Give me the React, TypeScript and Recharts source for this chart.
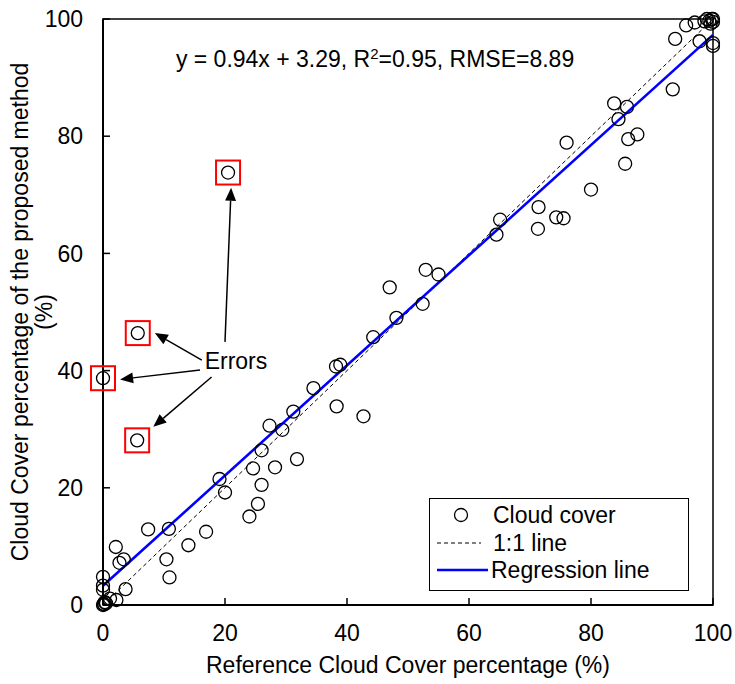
import React from 'react';
import {
  ScatterChart,
  Scatter,
  XAxis,
  YAxis,
  ReferenceLine,
  ReferenceDot,
  ReferenceArea,
} from 'recharts';

// ---- data ----
const cloudRef = [
  0, 0.2, 0.3, 0.5, 0.1, 1.15, 2.2, 0, 0, 0, 3.7, 2.1, 2.7, 3.4, 7.4, 10.8, 10.4, 10.9, 14.0, 16.9,
  19.1, 20.0, 24.0, 25.4, 24.6, 26.0, 26.0, 28.2, 27.3, 29.4, 31.2, 31.8, 34.5, 38.3, 38.2, 38.9, 42.7,
  44.3, 47.0, 48.1, 52.4, 52.9, 55.0, 64.5, 65.1, 71.3, 71.4, 74.3, 75.5, 76.0, 80.0, 83.8, 84.5, 85.9,
  85.6, 86.1, 87.6, 93.4, 93.8, 95.6, 97.0, 97.8, 98.6, 99.0, 99.4, 99.8, 100, 99.6, 100, 100, 100,
];
const cloudProposed = [
  0, 0.1, 0.5, 0.3, 0.2, 1.1, 0.85, 2.6, 3.3, 4.8, 2.7, 9.9, 7.2, 7.8, 12.9, 13.0, 7.8, 4.7, 10.2, 12.5,
  21.5, 19.2, 15.1, 17.25, 23.3, 20.5, 26.4, 23.5, 30.6, 29.9, 33.0, 24.9, 37.0, 33.9, 40.7, 41.0, 32.2,
  45.7, 54.2, 49.0, 51.4, 57.2, 56.4, 63.2, 65.75, 64.2, 67.9, 66.15, 66.0, 78.9, 70.9, 85.6, 82.9, 85.0,
  75.3, 79.5, 80.3, 88.0, 96.6, 98.9, 99.4, 96.2, 99.6, 100, 99.7, 100, 100, 99.2, 99.5, 95.9, 95.4,
];
const errorRef = [5.7, 0, 5.6, 20.5];
const errorProposed = [46.4, 38.7, 28.1, 73.8];

const xTicks = [0, 20, 40, 60, 80, 100];
const yTicks = [0, 20, 40, 60, 80, 100];

const regSlope = 0.94;
const regIntercept = 3.29;
const oneToOne = [0, 100];

// annotation arrows (from -> to, data units)
const arrowFromX = [16.2, 15.9, 17.8, 20.0];
const arrowFromY = [41.8, 40.1, 38.9, 44.9];
const arrowToX = [8.5, 2.8, 8.25, 21.0];
const arrowToY = [46.4, 38.5, 30.4, 71.2];

const cloudData = cloudRef.map((x, i) => ({ x, y: cloudProposed[i] }));
const errorData = errorRef.map((x, i) => ({ x, y: errorProposed[i] }));

const FONT = '"Liberation Sans", Arial, sans-serif';
const FS = 23;

const CircleShape = (p: any) => (
  <circle cx={p.cx} cy={p.cy} r={6.5} fill="none" stroke="#000" strokeWidth={1.3} />
);

const ErrorShape = (p: any) => (
  <g>
    <rect x={p.cx - 12} y={p.cy - 12} width={24} height={24} fill="none" stroke="#ff0000" strokeWidth={2} />
    <circle cx={p.cx} cy={p.cy} r={6.5} fill="none" stroke="#000" strokeWidth={1.3} />
  </g>
);

const ArrowShape = (p: any) => {
  const { x1, y1, x2, y2 } = p;
  const dx = x2 - x1;
  const dy = y2 - y1;
  const len = Math.hypot(dx, dy) || 1;
  const ux = dx / len;
  const uy = dy / len;
  const hl = 13;
  const hw = 5.5;
  const bx = x2 - ux * hl;
  const by = y2 - uy * hl;
  return (
    <g>
      <line x1={x1} y1={y1} x2={bx} y2={by} stroke="#000" strokeWidth={1.5} />
      <polygon
        points={`${x2},${y2} ${bx - uy * hw},${by + ux * hw} ${bx + uy * hw},${by - ux * hw}`}
        fill="#000"
      />
    </g>
  );
};

const XLabel = (props: any) => {
  const vb = props.viewBox || {};
  return (
    <text x={vb.x + vb.width / 2} y={vb.y + 68} textAnchor="middle" fontFamily={FONT} fontSize={FS} fill="#000">
      Reference Cloud Cover percentage (%)
    </text>
  );
};

const YLabel = (props: any) => {
  const vb = props.viewBox || {};
  const cy = vb.y + vb.height / 2;
  return (
    <g>
      <text x={28} y={cy} transform={`rotate(-90, 28, ${cy})`} textAnchor="middle" fontFamily={FONT} fontSize={FS} fill="#000">
        Cloud Cover percentage of the proposed method
      </text>
      <text x={52} y={cy} transform={`rotate(-90, 52, ${cy})`} textAnchor="middle" fontFamily={FONT} fontSize={FS} fill="#000">
        (%)
      </text>
    </g>
  );
};

const legendRow: React.CSSProperties = {
  position: 'absolute',
  left: 0,
  height: 26,
  display: 'flex',
  alignItems: 'center',
  fontFamily: FONT,
  fontSize: FS,
  color: '#000',
  whiteSpace: 'nowrap',
};

export default function App() {
  return (
    <div style={{ position: 'absolute', left: 0, top: 0, width: 735, height: 684, background: '#fff' }}>
      <ScatterChart width={735} height={684} margin={{ top: 19, right: 22, left: 0, bottom: 0 }}>
        <XAxis
          type="number"
          dataKey="x"
          domain={[0, 100]}
          ticks={xTicks}
          height={79}
          tickSize={-7}
          tickMargin={27}
          axisLine={{ stroke: '#000', strokeWidth: 2 }}
          tickLine={{ stroke: '#000', strokeWidth: 1.5 }}
          tick={{ fill: '#000', fontSize: FS, fontFamily: FONT }}
          label={<XLabel />}
        />
        <YAxis
          type="number"
          dataKey="y"
          domain={[0, 100]}
          ticks={yTicks}
          width={103}
          tickSize={-7}
          tickMargin={27}
          axisLine={{ stroke: '#000', strokeWidth: 2 }}
          tickLine={{ stroke: '#000', strokeWidth: 1.5 }}
          tick={{ fill: '#000', fontSize: FS, fontFamily: FONT }}
          label={<YLabel />}
        />
        <ReferenceArea x1={0} x2={100} y1={0} y2={100} fill="none" stroke="#000" strokeWidth={1.5} ifOverflow="visible" />
        <Scatter name="Cloud cover" data={cloudData} shape={CircleShape} isAnimationActive={false} />
        <Scatter name="Errors" data={errorData} shape={ErrorShape} isAnimationActive={false} />
        <ReferenceLine
          segment={[
            { x: oneToOne[0], y: oneToOne[0] },
            { x: oneToOne[1], y: oneToOne[1] },
          ]}
          stroke="#000"
          strokeWidth={1}
          strokeDasharray="4 3"
          ifOverflow="visible"
        />
        <ReferenceLine
          segment={[
            { x: 0, y: regIntercept },
            { x: 100, y: regSlope * 100 + regIntercept },
          ]}
          stroke="#0000ff"
          strokeWidth={2.6}
          ifOverflow="visible"
        />
        {arrowFromX.map((fx, i) => (
          <ReferenceLine
            key={`arr${i}`}
            segment={[
              { x: fx, y: arrowFromY[i] },
              { x: arrowToX[i], y: arrowToY[i] },
            ]}
            shape={ArrowShape}
            ifOverflow="visible"
          />
        ))}
        <ReferenceDot
          x={21.8}
          y={41.7}
          r={0}
          ifOverflow="visible"
          shape={(p: any) => (
            <text x={p.cx} y={p.cy + 8} textAnchor="middle" fontFamily={FONT} fontSize={FS} fill="#000">
              Errors
            </text>
          )}
        />
        <ReferenceDot
          x={44.6}
          y={93.1}
          r={0}
          ifOverflow="visible"
          shape={(p: any) => (
            <text x={p.cx} y={p.cy + 8} textAnchor="middle" fontFamily={FONT} fontSize={FS} fill="#000">
              y = 0.94x + 3.29, R
              <tspan dy={-8} fontSize={15}>2</tspan>
              <tspan dy={8}>=0.95, RMSE=8.89</tspan>
            </text>
          )}
        />
      </ScatterChart>
      <div
        style={{
          position: 'absolute',
          left: 429,
          top: 498,
          width: 260,
          height: 93,
          border: '1px solid #000',
          background: '#fff',
          boxSizing: 'border-box',
        }}
      >
        <div style={{ ...legendRow, top: 3 }}>
          <svg width={60} height={26} style={{ display: 'block' }}>
            <circle cx={31} cy={13} r={6.5} fill="none" stroke="#000" strokeWidth={1.3} />
          </svg>
          <span style={{ marginLeft: 3 }}>Cloud cover</span>
        </div>
        <div style={{ ...legendRow, top: 31 }}>
          <svg width={60} height={26} style={{ display: 'block' }}>
            <line x1={7} y1={13} x2={51} y2={13} stroke="#000" strokeWidth={1} strokeDasharray="4 3" />
          </svg>
          <span style={{ marginLeft: 3 }}>1:1 line</span>
        </div>
        <div style={{ ...legendRow, top: 58 }}>
          <svg width={60} height={26} style={{ display: 'block' }}>
            <line x1={7} y1={13} x2={58} y2={13} stroke="#0000ff" strokeWidth={2.6} />
          </svg>
          <span style={{ marginLeft: 1 }}>Regression line</span>
        </div>
      </div>
    </div>
  );
}
